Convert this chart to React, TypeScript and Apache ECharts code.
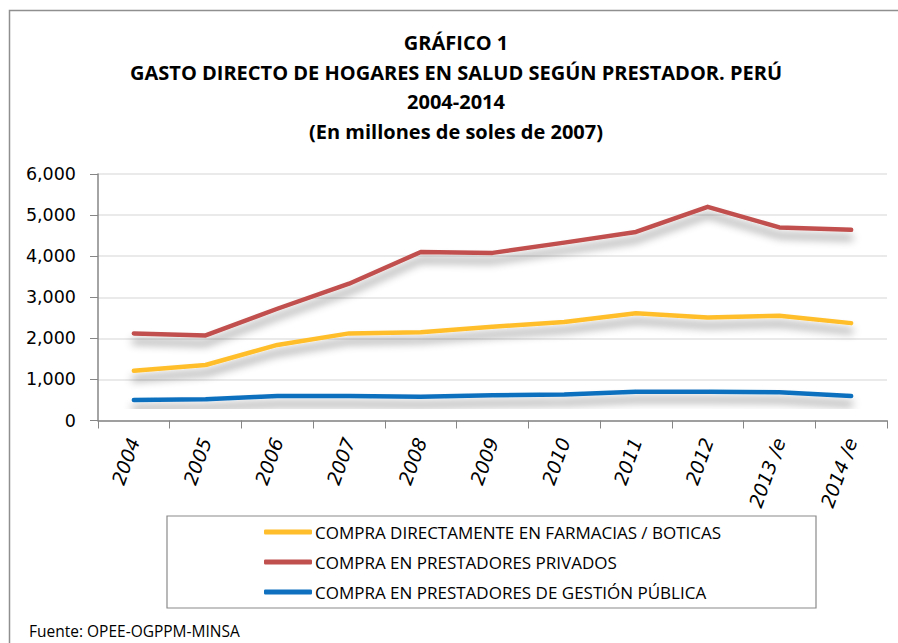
import React, { useEffect, useRef } from "react";
import * as echarts from "echarts";

const years = ["2004", "2005", "2006", "2007", "2008", "2009", "2010", "2011", "2012", "2013 /e", "2014 /e"];
const farmacias = [1210, 1350, 1840, 2120, 2150, 2280, 2400, 2610, 2510, 2550, 2370];
const privados = [2120, 2070, 2720, 3330, 4100, 4080, 4330, 4590, 5200, 4700, 4640];
const publica = [500, 515, 595, 595, 580, 612, 635, 700, 700, 686, 596];
const seriesNames = [
  "COMPRA DIRECTAMENTE EN FARMACIAS / BOTICAS",
  "COMPRA EN PRESTADORES PRIVADOS",
  "COMPRA EN PRESTADORES DE GESTIÓN PÚBLICA",
];
const colors = ["#FFBE2B", "#C0504D", "#0E70BE"];
const titleText = "GRÁFICO 1\nGASTO DIRECTO DE HOGARES EN SALUD SEGÚN PRESTADOR. PERÚ\n2004-2014\n(En millones de soles de 2007)";
const sourceText = "Fuente: OPEE-OGPPM-MINSA";

export default function App() {
  const ref = useRef<HTMLDivElement>(null);
  useEffect(() => {
    document.body.style.margin = "0";
    if (!ref.current) return;
    const chart = echarts.init(ref.current, undefined, { renderer: "svg" });
    const shadow = {
      shadowColor: "rgba(0,0,0,0.42)",
      shadowBlur: 9,
      shadowOffsetX: 0,
      shadowOffsetY: 8,
    };
    const datas = [farmacias, privados, publica];
    chart.setOption({
      animation: false,
      backgroundColor: "#ffffff",
      title: {
        text: titleText,
        left: 451,
        top: 23,
        textAlign: "center",
        textStyle: {
          fontFamily: "Open Sans",
          fontWeight: "bold",
          fontSize: 20,
          lineHeight: 29.5,
          color: "#000",
        },
      },
      legend: {
        orient: "vertical",
        left: 264,
        top: 522,
        itemWidth: 48,
        itemHeight: 5,
        itemGap: 10,
        icon: "roundRect",
        padding: 0,
        textStyle: { fontFamily: "Open Sans", fontSize: 17, color: "#000", lineHeight: 20, padding: [0, 0, 0, -2] },
        data: seriesNames.map((n, i) => ({ name: n, itemStyle: { color: colors[i], shadowBlur: 0, shadowOffsetY: 0 } })),
      },
      grid: { left: 98, right: 11, top: 174, bottom: 222.5, containLabel: false },
      xAxis: {
        type: "category",
        data: years,
        boundaryGap: true,
        axisLine: { lineStyle: { color: "#868686", width: 1.5 } },
        axisTick: { show: true, length: 8, lineStyle: { color: "#868686" } },
        axisLabel: {
          rotate: 70,
          margin: 18,
          fontFamily: "DejaVu Sans",
          fontStyle: "italic",
          fontSize: 19,
          color: "#000",
          interval: 0,
        },
      },
      yAxis: {
        type: "value",
        min: 0,
        max: 6000,
        interval: 1000,
        axisLine: { show: true, lineStyle: { color: "#868686", width: 1.5 } },
        axisTick: { show: true, length: 8, lineStyle: { color: "#868686" } },
        splitLine: { lineStyle: { color: "#E3E3E3", width: 1.5 } },
        axisLabel: {
          margin: 22,
          fontFamily: "DejaVu Sans",
          fontSize: 17.5,
          color: "#000",
          formatter: (v: number) => v.toLocaleString("en-US"),
        },
      },
      series: datas.map((d, i) => ({
        name: seriesNames[i],
        type: "line",
        data: d,
        showSymbol: false,
        symbol: "none",
        color: colors[i],
        lineStyle: { color: colors[i], width: 4.5, cap: "round", join: "round", ...shadow },
      })),
      graphic: [
        {
          type: "rect",
          shape: { x: 9.5, y: 10.5, width: 1000, height: 1000 },
          style: { fill: "none", stroke: "#8F8F8F", lineWidth: 1.5 },
          silent: true,
        },
        {
          type: "rect",
          shape: { x: 167, y: 516, width: 649, height: 92 },
          style: { fill: "none", stroke: "#8A8A8A", lineWidth: 1.2 },
          silent: true,
        },
        {
          type: "text",
          x: 29,
          y: 631,
          style: {
            text: sourceText,
            fontFamily: "Open Sans",
            fontSize: 15.5,
            lineHeight: 18,
            fill: "#000",
            verticalAlign: "middle",
          },
        },
      ],
    });
    return () => chart.dispose();
  }, []);
  return <div ref={ref} style={{ width: 898, height: 643 }} />;
}
